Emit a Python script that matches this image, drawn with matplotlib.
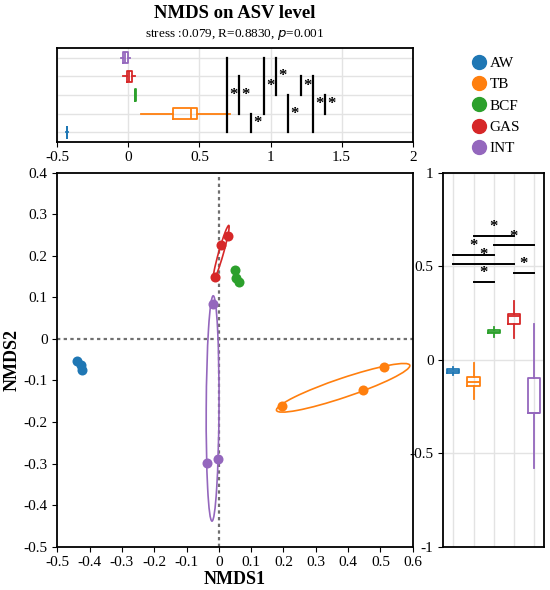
import matplotlib
matplotlib.use('Agg')
import matplotlib.pyplot as plt
from matplotlib.lines import Line2D
from matplotlib.patches import Ellipse
import numpy as np

GROUPS = ['AW', 'TB', 'BCF', 'GAS', 'INT']
COLORS = ['#1f77b4', '#ff7f0e', '#2ca02c', '#d62728', '#9467bd']

# NMDS site scores per group (three replicates)
NMDS1 = {'AW': [-0.438, -0.427, -0.424],
         'TB': [0.196, 0.447, 0.511],
         'BCF': [0.049, 0.053, 0.062],
         'GAS': [-0.013, 0.007, 0.027],
         'INT': [-0.018, -0.036, -0.004]}
NMDS2 = {'AW': [-0.052, -0.063, -0.075],
         'TB': [-0.162, -0.123, -0.068],
         'BCF': [0.166, 0.146, 0.137],
         'GAS': [0.148, 0.227, 0.248],
         'INT': [0.085, -0.299, -0.288]}

# box summaries: (whislo, q1, med, q3, whishi)
BOX1 = {'AW': (-0.437, -0.434, -0.432, -0.430, -0.427),
        'TB': (0.087, 0.316, 0.440, 0.480, 0.714),
        'BCF': (0.045, 0.047, 0.049, 0.051, 0.053),
        'GAS': (-0.036, -0.012, 0.002, 0.023, 0.046),
        'INT': (-0.052, -0.036, -0.022, -0.005, 0.011)}
BOX2 = {'AW': (-0.084, -0.070, -0.059, -0.050, -0.037),
        'TB': (-0.212, -0.141, -0.121, -0.091, -0.020),
        'BCF': (0.123, 0.143, 0.150, 0.159, 0.177),
        'GAS': (0.114, 0.189, 0.235, 0.244, 0.316),
        'INT': (-0.578, -0.287, -0.287, -0.100, 0.191)}

# significance brackets (group a, group b, position)
SIG1 = [('INT', 'AW', 0.691), ('GAS', 'TB', 0.776), ('TB', 'AW', 0.862),
        ('INT', 'TB', 0.954), ('INT', 'BCF', 1.040), ('BCF', 'AW', 1.125),
        ('GAS', 'BCF', 1.214), ('GAS', 'AW', 1.296), ('BCF', 'TB', 1.385)]
SIG2 = [('TB', 'GAS', 0.661), ('BCF', 'INT', 0.611), ('AW', 'BCF', 0.561),
        ('AW', 'GAS', 0.512), ('GAS', 'INT', 0.463), ('TB', 'BCF', 0.414)]

ELL_SCALE = 1.24

plt.rcParams.update({'font.family': 'Liberation Serif', 'font.size': 11,
                     'axes.unicode_minus': False, 'axes.linewidth': 1.3})

fig = plt.figure(figsize=(5.5, 5.9), dpi=100)
ax_top = fig.add_axes([0.1042, 0.7598, 0.6462, 0.1583])
ax = fig.add_axes([0.1042, 0.0734, 0.6462, 0.6339])
ax_r = fig.add_axes([0.806, 0.0734, 0.1831, 0.6339])
pos = {g: i + 1 for i, g in enumerate(GROUPS)}


def stats(d):
    return [dict(whislo=v[0], q1=v[1], med=v[2], q3=v[3], whishi=v[4], fliers=[])
            for v in (d[g] for g in GROUPS)]


def draw_boxes(a, d, vert):
    bp = a.bxp(stats(d), positions=list(range(1, 6)), widths=0.6, vert=vert,
               showcaps=False, patch_artist=False, manage_ticks=False)
    for i, c in enumerate(COLORS):
        for key in ('boxes', 'medians'):
            bp[key][i].set(color=c, lw=1.3)
        for w in bp['whiskers'][2 * i:2 * i + 2]:
            w.set(color=c, lw=1.3)


# top panel: NMDS1 distribution
draw_boxes(ax_top, BOX1, vert=False)
for a, b, x in SIG1:
    ax_top.plot([x, x], [pos[a], pos[b]], color='black', lw=1.6)
    ax_top.text(x + 0.045, (pos[a] + pos[b]) / 2, '*', ha='center', va='center',
                fontsize=12, fontweight='bold')
ax_top.set_xlim(-0.5, 2)
ax_top.set_ylim(0.5, 5.5)
ax_top.set_xticks([-0.5, 0, 0.5, 1, 1.5, 2])
ax_top.set_xticklabels(['-0.5', '0', '0.5', '1', '1.5', '2'])
ax_top.set_yticks(range(1, 6))
ax_top.tick_params(axis='y', length=0, labelleft=False)
ax_top.grid(True, color='#e3e3e3', lw=1)
ax_top.set_axisbelow(True)
fig.text(0.4273, 0.977, 'NMDS on ASV level', ha='center', va='center',
         fontsize=13.5, fontweight='bold')
fig.text(0.4273, 0.942, 'stress :0.079, R=0.8830, $\\it{p}$=0.001',
         ha='center', va='center', fontsize=9.5)

# main scatter
ax.axhline(0, color='#707070', lw=1.6, ls=(0, (1.5, 1.5)), zorder=1)
ax.axvline(0, color='#707070', lw=1.6, ls=(0, (1.5, 1.5)), zorder=1)
for g, c in zip(GROUPS, COLORS):
    x = np.array(NMDS1[g])
    y = np.array(NMDS2[g])
    cov = np.cov(x, y)
    vals, vecs = np.linalg.eigh(cov)
    ang = np.degrees(np.arctan2(vecs[1, 1], vecs[0, 1]))
    w, h = 2 * ELL_SCALE * np.sqrt(vals[::-1])
    ax.add_patch(Ellipse((x.mean(), y.mean()), w, h, angle=ang, fill=False,
                         ec=c, lw=1.2, zorder=2))
    ax.scatter(x, y, s=52, color=c, zorder=3, lw=0)
ax.set_xlim(-0.5, 0.6)
ax.set_ylim(-0.5, 0.4)
xt = [-0.5, -0.4, -0.3, -0.2, -0.1, 0, 0.1, 0.2, 0.3, 0.4, 0.5, 0.6]
yt = [-0.5, -0.4, -0.3, -0.2, -0.1, 0, 0.1, 0.2, 0.3, 0.4]
ax.set_xticks(xt)
ax.set_xticklabels([f'{v:g}' for v in xt])
ax.set_yticks(yt)
ax.set_yticklabels([f'{v:g}' for v in yt])
ax.set_xlabel('NMDS1', fontsize=13, fontweight='bold', labelpad=1)
ax.set_ylabel('NMDS2', fontsize=13, fontweight='bold', labelpad=2)

# right panel: NMDS2 distribution
draw_boxes(ax_r, BOX2, vert=True)
for a, b, y in SIG2:
    ax_r.plot([pos[a], pos[b]], [y, y], color='black', lw=1.4)
    ax_r.text((pos[a] + pos[b]) / 2, y + 0.005, '*', ha='center', va='bottom',
              fontsize=12, fontweight='bold')
ax_r.set_xlim(0.5, 5.5)
ax_r.set_ylim(-1, 1)
ax_r.set_xticks(range(1, 6))
ax_r.tick_params(axis='x', length=0, labelbottom=False)
ax_r.set_yticks([-1, -0.5, 0, 0.5, 1])
ax_r.set_yticklabels(['-1', '-0.5', '0', '0.5', '1'])
ax_r.grid(True, color='#e3e3e3', lw=1)
ax_r.set_axisbelow(True)

# legend
handles = [Line2D([], [], marker='o', ls='', ms=10, mfc=c, mec=c) for c in COLORS]
fig.legend(handles, GROUPS, loc='upper left', bbox_to_anchor=(0.843, 0.915),
           frameon=False, handletextpad=0.1, labelspacing=0.5, fontsize=11,
           borderaxespad=0, handlelength=1.2)

fig.savefig('out.png', dpi=100)
